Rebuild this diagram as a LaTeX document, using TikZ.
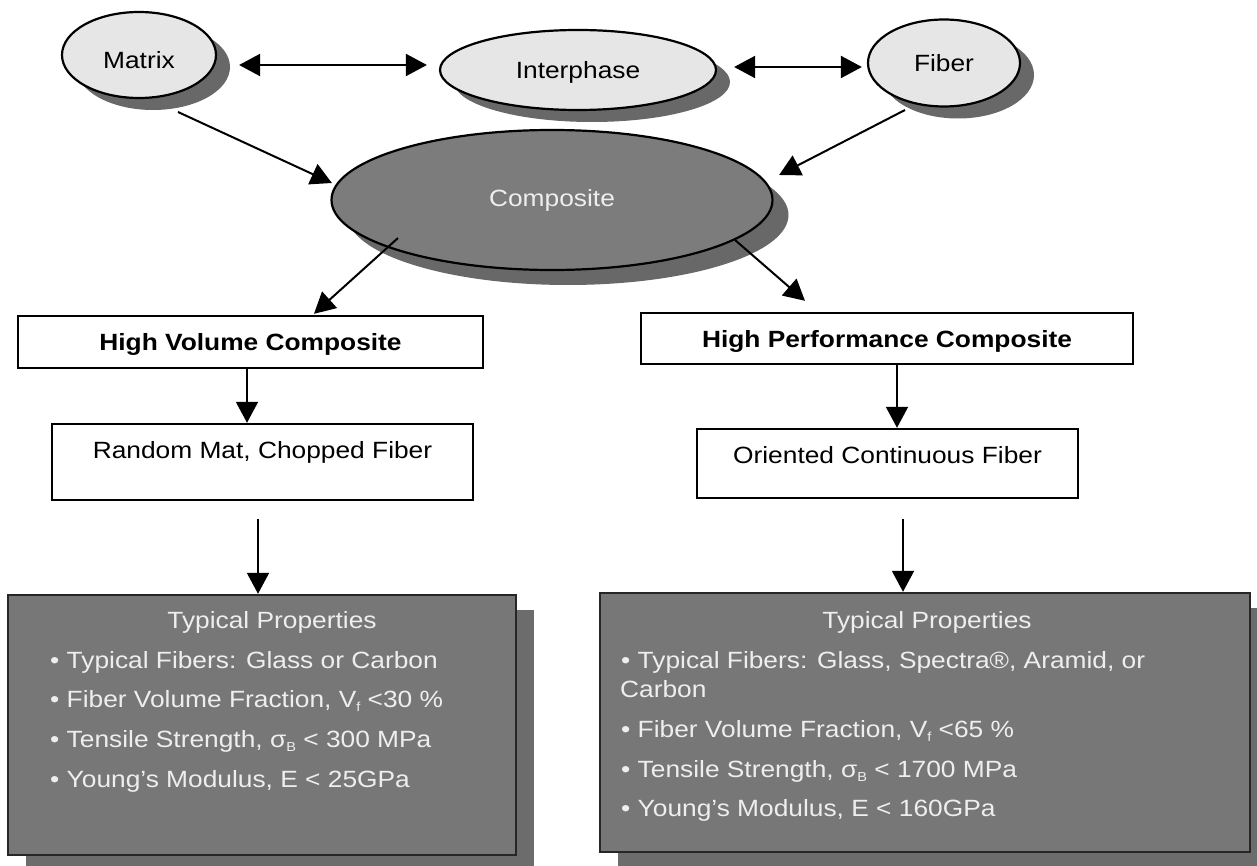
\documentclass[tikz,border=0pt]{standalone}
\usepackage{fontspec}
\setmainfont{Liberation Sans}[FakeStretch=1.12]
\usetikzlibrary{arrows.meta,shadows,shapes.geometric}
\newcommand\lowidx[1]{\raisebox{-0.35ex}{\fontsize{13}{13}\selectfont #1}}
\definecolor{lightfill}{HTML}{E6E6E6}
\definecolor{shadowgray}{HTML}{686868}
\definecolor{compfill}{HTML}{7C7C7C}
\definecolor{boxfill}{HTML}{777777}
\definecolor{boxshadow}{HTML}{6C6C6C}
\definecolor{paletext}{HTML}{EEEEEE}
\begin{document}
\begin{tikzpicture}[x=1pt,y=-1pt,
  txt/.style={font=\fontsize{23.5}{28}\selectfont},
  lightell/.style={txt,ellipse,draw=black,line width=2.2pt,fill=lightfill,inner sep=0pt,
    text height=17pt,text depth=0pt,
    drop shadow={shadow xshift=14pt,shadow yshift=-12pt,fill=shadowgray,opacity=1}},
  compell/.style={txt,ellipse,draw=black,line width=2.2pt,fill=compfill,inner sep=0pt,
    text=paletext,text height=17pt,text depth=0pt,
    drop shadow={shadow xshift=16pt,shadow yshift=-15pt,fill=shadowgray,opacity=1}},
  whitebox/.style={txt,rectangle,draw=black,line width=2.4pt,fill=white,inner sep=0pt},
  propbox/.style={rectangle,draw=black!85,line width=2.4pt,fill=boxfill,inner sep=0pt,
    drop shadow={shadow xshift=18pt,shadow yshift=-15pt,fill=boxshadow,opacity=1}},
  proptxt/.style={txt,text=paletext,inner sep=0pt,anchor=base west},
  prophead/.style={txt,text=paletext,inner sep=0pt,anchor=base},
  arr/.style={line width=2pt,-{Triangle[length=21pt,width=22pt]}},
  darr/.style={line width=2pt,{Triangle[length=21pt,width=22pt]}-{Triangle[length=21pt,width=22pt]}}
]
\useasboundingbox (0,0) rectangle (1257,866);
\fill[white] (0,0) rectangle (1257,866);

% top ellipses
\node[lightell,minimum width=154pt,minimum height=86pt,text height=27pt] (m) at (139,55) {Matrix};
\node[lightell,minimum width=276pt,minimum height=80pt] (ip) at (578,70) {Interphase};
\node[lightell,minimum width=152pt,minimum height=87pt] (fb) at (944,63) {Fiber};
\node[compell,minimum width=441pt,minimum height=140pt,text depth=4pt] (c) at (552,200) {Composite};

% boxes
\node[whitebox,font=\fontsize{23.5}{28}\selectfont\bfseries,minimum width=465pt,minimum height=52pt,
  text height=17pt,text depth=0pt] (hv) at (250.5,342) {High Volume Composite};
\node[whitebox,font=\fontsize{23.5}{28}\selectfont\bfseries,minimum width=492pt,minimum height=51pt,
  text height=17pt,text depth=0pt] (hp) at (887,338.5) {High Performance Composite};
\node[whitebox,minimum width=421pt,minimum height=76pt,text height=17pt,text depth=24pt]
  (rm) at (262.5,462) {Random Mat, Chopped Fiber};
\node[whitebox,minimum width=381pt,minimum height=69pt,text height=17pt,text depth=17pt]
  (ocf) at (887.5,463.5) {Oriented Continuous Fiber};

% property boxes
\node[propbox,minimum width=508pt,minimum height=260pt] (lp) at (262,725) {};
\node[propbox,minimum width=650pt,minimum height=259pt] (rp) at (925,722.5) {};

\node[prophead] (lph) at (272,628) {Typical Properties};
\node[proptxt] (lp1) at (50,668) {\textbullet\ Typical Fibers: Glass or Carbon};
\node[proptxt] (lp2) at (50,707) {\textbullet\ Fiber Volume Fraction, V\lowidx{f} <30 \%};
\node[proptxt] (lp3) at (50,747) {\textbullet\ Tensile Strength, σ\lowidx{B} < 300 MPa};
\node[proptxt] (lp4) at (50,787) {\textbullet\ Young’s Modulus, E < 25GPa};

\node[prophead] (rph) at (927,628) {Typical Properties};
\node[proptxt] (rp1) at (621,668) {\textbullet\ Typical Fibers: Glass, Spectra®, Aramid, or};
\node[proptxt] (rp1b) at (620,697) {Carbon};
\node[proptxt] (rp2) at (621,737) {\textbullet\ Fiber Volume Fraction, V\lowidx{f} <65 \%};
\node[proptxt] (rp3) at (621,777) {\textbullet\ Tensile Strength, σ\lowidx{B} < 1700 MPa};
\node[proptxt] (rp4) at (621,816) {\textbullet\ Young’s Modulus, E < 160GPa};

% connectors
\draw[darr] ([shift={(22,10)}]m.east) -- ([shift={(-12,-5)}]ip.west);
\draw[darr] ([shift={(17,-3)}]ip.east) -- ([shift={(-5,4)}]fb.west);
\draw[arr] ([shift={(39,57)}]m.center) -- ([shift={(1.5,-17)}]c.west);
\draw[arr] ([shift={(-39,47)}]fb.center) -- ([shift={(5.5,-25)}]c.east);
\draw[arr] ([shift={(-154,38)}]c.center) -- ([shift={(63.5,-1)}]hv.north);
\draw[arr] ([shift={(183,40)}]c.center) -- ([shift={(-82,-11)}]hp.north);
\draw[arr] ([xshift=-3.5pt]hv.south) -- ([xshift=-15.5pt]rm.north);
\draw[arr] ([xshift=10pt]hp.south) -- ([xshift=9.5pt]ocf.north);
\draw[arr] ([shift={(-4.5,18)}]rm.south) -- ([xshift=-4pt]lp.north);
\draw[arr] ([shift={(15.5,20)}]ocf.south) -- ([xshift=-22pt]rp.north);
\end{tikzpicture}
\end{document}
